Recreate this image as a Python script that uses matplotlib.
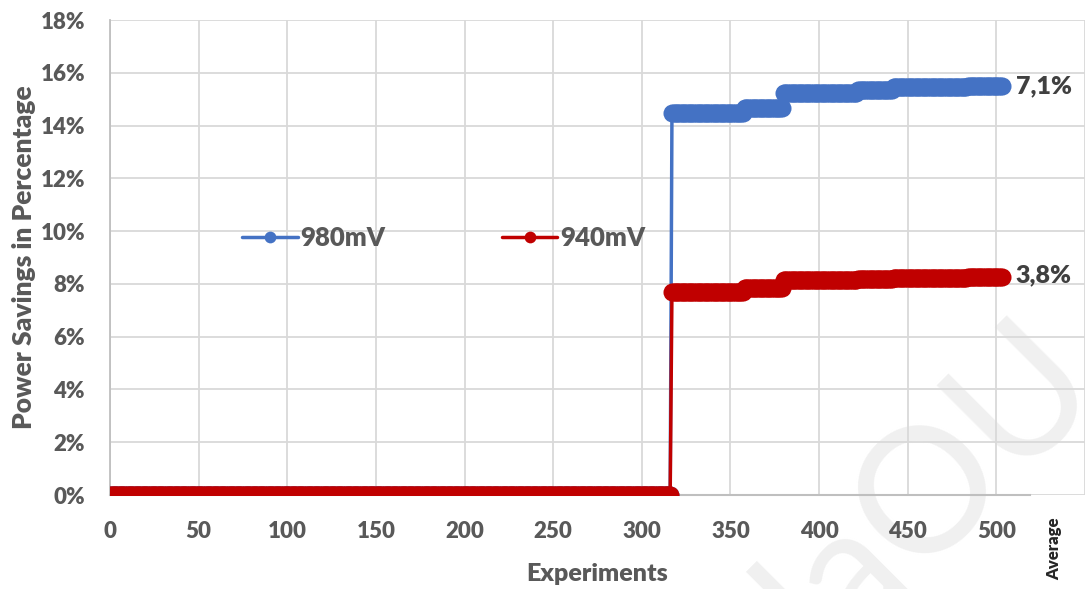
import matplotlib.pyplot as plt
import numpy as np
from matplotlib.ticker import FuncFormatter

# Step levels of the power savings (%), per range of experiments
step_starts = [0, 317, 358, 380, 422, 442, 484]
step_ends = [316, 357, 379, 421, 441, 483, 503]
savings_980 = [0.0, 14.47, 14.66, 15.23, 15.34, 15.45, 15.50]
savings_940 = [0.0, 7.69, 7.84, 8.14, 8.18, 8.24, 8.26]
series_names = ["980mV", "940mV"]
average_labels = ["7,1%", "3,8%"]
x_ticks = [0, 50, 100, 150, 200, 250, 300, 350, 400, 450, 500]
y_ticks = [0, 2, 4, 6, 8, 10, 12, 14, 16, 18]

BLUE = "#4472c4"
RED = "#c00000"
GREY = "#595959"


def expand(levels):
    """Turn step levels into one value per experiment."""
    x = np.concatenate([np.arange(s, e + 1) for s, e in zip(step_starts, step_ends)])
    counts = [e - s + 1 for s, e in zip(step_starts, step_ends)]
    return x, np.repeat(levels, counts)


plt.rcParams['font.family'] = ['Lato', 'DejaVu Sans']
plt.rcParams['font.weight'] = 'heavy'

fig = plt.figure(figsize=(10.86, 5.89), dpi=100)
ax = fig.add_axes([110 / 1086, 1 - 495 / 589, 975 / 1086, 475 / 589])
ax.patch.set_alpha(0)

# faint watermark behind the plot
fig.text(0.855, 0.17, "laOU", rotation=45, fontsize=125, color="#f0f0f0",
         ha='center', va='center', fontweight='normal', zorder=-1)

x, y980 = expand(savings_980)
_, y940 = expand(savings_940)
ax.plot(x, y980, color=BLUE, lw=2.5, marker='o', ms=13, mew=0,
        solid_capstyle='round', label=series_names[0], zorder=3)
ax.plot(x, y940, color=RED, lw=2.5, marker='o', ms=13, mew=0,
        solid_capstyle='round', label=series_names[1], zorder=4)

# Average annotations at the end of each series
ax.text(x[-1] + 8, y980[-1], average_labels[0], color="#404040",
        fontsize=18, fontweight='heavy', va='center', ha='left')
ax.text(x[-1] + 8, y940[-1] + 0.05, average_labels[1], color="#404040",
        fontsize=18, fontweight='heavy', va='center', ha='left')

ax.set_xlim(0, 550)
ax.set_ylim(0, 18)
ax.set_xticks(list(x_ticks) + [550])
ax.set_xticklabels([str(t) for t in x_ticks] + [""])
ax.set_yticks(y_ticks)
ax.yaxis.set_major_formatter(FuncFormatter(lambda v, _: f"{v:.0f}%"))
ax.grid(True, color="#d9d9d9", lw=1.3, zorder=0)
ax.set_axisbelow(True)
for side in ['top', 'right', 'bottom']:
    ax.spines[side].set_visible(False)
ax.spines['left'].set_color("#bfbfbf")
ax.spines['left'].set_linewidth(1.3)
ax.plot([0, 519], [0, 0], color="#bfbfbf", lw=1.5, zorder=1, clip_on=False)
ax.tick_params(length=0, labelsize=16, labelcolor=GREY)
ax.tick_params(axis='y', pad=18)
ax.tick_params(axis='x', pad=19)
for lab in ax.get_xticklabels() + ax.get_yticklabels():
    lab.set_fontweight('heavy')

ax.text(532.5, -0.85, "Average", rotation=90, ha='center', va='top',
        fontsize=12, color="#262626", fontweight='heavy')

ax.set_xlabel("Experiments", fontsize=18, color=GREY, fontweight='heavy', labelpad=15)
ax.set_ylabel("Power Savings in Percentage", fontsize=19, color=GREY,
              fontweight='heavy', labelpad=3)

leg = ax.legend(loc='center left', bbox_to_anchor=(0.112, 0.541), ncol=2,
                frameon=False, fontsize=18.5, columnspacing=4.55,
                handlelength=2.15, handletextpad=0.1, markerscale=0.65)
for txt in leg.get_texts():
    txt.set_color(GREY)
    txt.set_fontweight('heavy')

fig.savefig("out.png", dpi=100)
